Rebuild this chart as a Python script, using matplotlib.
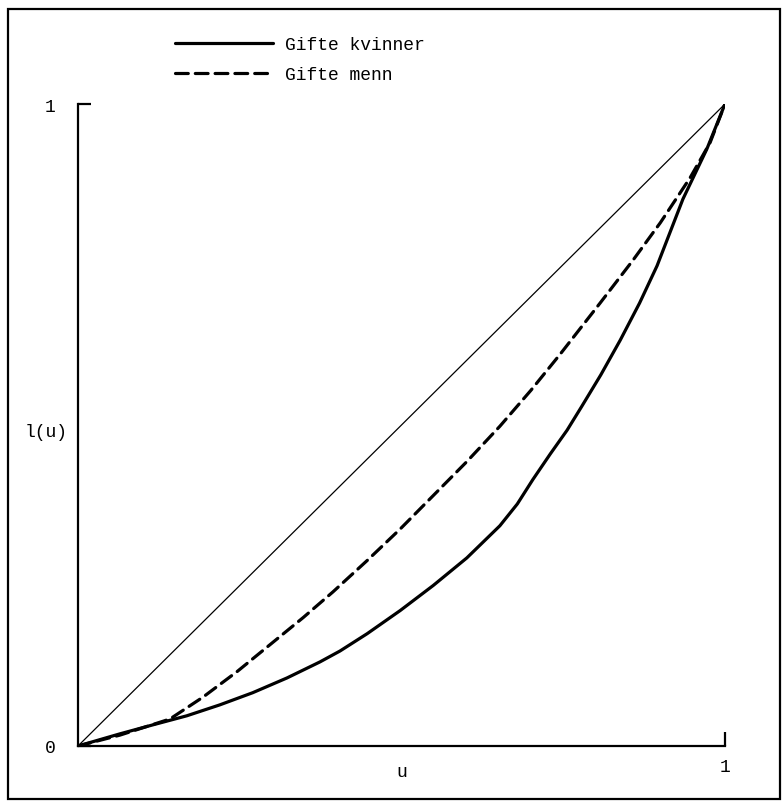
import matplotlib
matplotlib.use("Agg")
from matplotlib import pyplot as plt
from matplotlib.patches import Rectangle
import numpy as np

# Lorenz-type curves (u, l(u))
u_kvinner = [0.0, 0.065, 0.116, 0.168, 0.219, 0.270, 0.323, 0.374, 0.405,
             0.447, 0.498, 0.549, 0.601, 0.652, 0.679, 0.703, 0.730, 0.756,
             0.778, 0.808, 0.838, 0.868, 0.895, 0.935, 0.972, 1.0]
l_kvinner = [0.0, 0.019, 0.033, 0.047, 0.064, 0.083, 0.106, 0.131, 0.148,
             0.175, 0.211, 0.250, 0.293, 0.343, 0.377, 0.415, 0.455, 0.492,
             0.528, 0.578, 0.632, 0.690, 0.748, 0.852, 0.930, 1.0]

u_menn = [0.0, 0.065, 0.142, 0.193, 0.246, 0.297, 0.348, 0.394, 0.447, 0.498,
          0.549, 0.601, 0.652, 0.700, 0.745, 0.807, 0.858, 0.900, 0.946,
          0.977, 1.0]
l_menn = [0.0, 0.017, 0.042, 0.076, 0.116, 0.158, 0.200, 0.240, 0.289, 0.338,
          0.390, 0.443, 0.498, 0.554, 0.610, 0.690, 0.757, 0.815, 0.885,
          0.940, 1.0]

diag = [0.0, 1.0]
labels = ["Gifte kvinner", "Gifte menn"]

font = "Liberation Mono"
plt.rcParams['font.family'] = [font, 'DejaVu Sans Mono']
plt.rcParams['font.size'] = 13

fig = plt.figure(figsize=(7.82, 8.03), dpi=100)
ax = fig.add_axes([78/782, 56/803, 647/782, 642/803])

ax.plot(diag, diag, color="black", lw=0.9)
ax.plot(u_kvinner, l_kvinner, color="black", lw=2.3, label=labels[0],
        solid_capstyle="round", solid_joinstyle="round")
ax.plot(u_menn, l_menn, color="black", lw=2.3, dashes=(4, 2.2),
        dash_capstyle="round", dash_joinstyle="round", label=labels[1])

ax.set_xlim(0, 1)
ax.set_ylim(0, 1)
for s in ["top", "right"]:
    ax.spines[s].set_visible(False)
for s in ["left", "bottom"]:
    ax.spines[s].set_linewidth(1.6)

ax.set_xticks([1])
ax.set_xticklabels(["1"])
ax.set_yticks([0, 1])
ax.set_yticklabels(["0", "1"])
ax.tick_params(axis="x", direction="in", length=10, width=1.6, pad=9)
ax.tick_params(axis="y", direction="in", length=9, width=1.6, pad=16)

ax.text(0.5, -0.039, "u", transform=ax.transAxes, ha="center", va="center")
ax.text(-0.049, 0.49, "l(u)", transform=ax.transAxes, ha="center", va="center")

ax.legend(frameon=False, loc="upper left", bbox_to_anchor=(175/782, 1 - 37/803),
          bbox_transform=fig.transFigure, borderpad=0, borderaxespad=0,
          handlelength=5.4, handletextpad=0.7, labelspacing=0.72)

# frame around whole figure
fig.patches.append(Rectangle((8/782, 3/803), 772/782, 790/803, transform=fig.transFigure,
                             fill=False, edgecolor="black", lw=1.6))

plt.savefig("out.png", dpi=100)
